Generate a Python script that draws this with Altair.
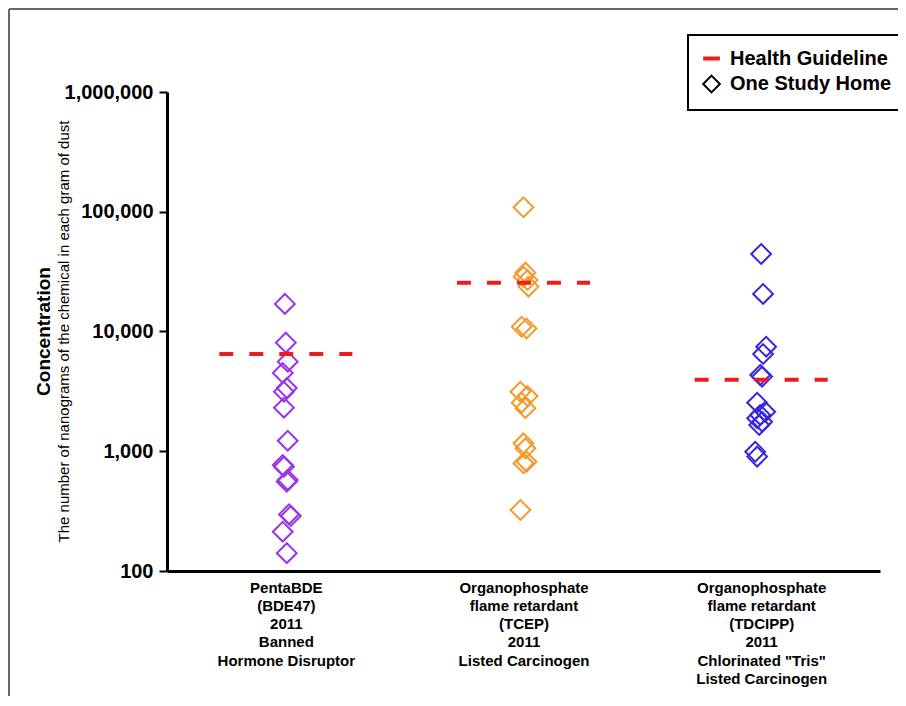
import altair as alt
import pandas as pd

# ---------------- data ----------------
categories = ["PentaBDE", "TCEP", "TDCIPP"]
category_labels = [
    ["PentaBDE", "(BDE47)", "2011", "Banned", "Hormone Disruptor"],
    ["Organophosphate", "flame retardant", "(TCEP)", "2011", "Listed Carcinogen"],
    ["Organophosphate", "flame retardant", "(TDCIPP)", "2011", 'Chlorinated "Tris"', "Listed Carcinogen"],
]
category_colors = ["#9933EE", "#F39A2B", "#3526E0"]
guidelines = [6500, 25500, 3950]

penta_values = [17000, 8070, 5600, 4500, 3370, 3140, 2310, 1225, 768, 743, 557, 575, 297, 288, 213, 141]
penta_jitter = [-0.004, 0, 0.008, -0.013, 0.004, -0.008, -0.008, 0.008, -0.013, -0.008, 0.004, 0.008, 0.013, 0.021, -0.013, 0.004]

tcep_values = [109000, 31000, 28700, 26900, 23700, 10970, 10600, 3140, 2890, 2545, 2290, 1165, 1057, 793, 818, 323]
tcep_jitter = [0, 0.008, 0, 0.017, 0.021, -0.008, 0.013, -0.013, 0.017, -0.008, 0.008, 0, 0.008, 0, 0.013, -0.013]

tdcipp_values = [44400, 20600, 7470, 6490, 4330, 4200, 2545, 2140, 2010, 1885, 1765, 1655, 991, 902]
tdcipp_jitter = [0, 0.008, 0.021, 0.008, -0.004, 0.004, -0.017, 0.017, -0.004, -0.017, 0.004, -0.008, -0.025, -0.017]

y_ticks = [100, 1000, 10000, 100000, 1000000]
legend_items = ["Health Guideline", "One Study Home"]
legend_colors = ["#EE1C1C", "black"]
legend_shapes = ["stroke", "diamond"]
legend_widths = [4, 2]

# ---------------- tables ----------------
rows = []
for i, (vals, jit) in enumerate([(penta_values, penta_jitter),
                                 (tcep_values, tcep_jitter),
                                 (tdcipp_values, tdcipp_jitter)]):
    for v, j in zip(vals, jit):
        rows.append({"category": categories[i], "value": v, "pos": i + 0.5 + j,
                     "kind": legend_items[1]})
points_df = pd.DataFrame(rows)

HALF = 0.28
guide_df = pd.DataFrame({
    "category": categories,
    "value": guidelines,
    "x": [i + 0.5 - HALF for i in range(len(categories))],
    "x2": [i + 0.5 + HALF for i in range(len(categories))],
    "kind": legend_items[0],
})

# multi-line x labels
def arr(lines):
    return "[" + ",".join("'" + l + "'" for l in lines) + "]"

label_expr = ("datum.value < 1 ? " + arr(category_labels[0]) +
              " : datum.value < 2 ? " + arr(category_labels[1]) +
              " : " + arr(category_labels[2]))

FONT = "Liberation Sans"
W, H = 713, 479
PAD = {"left": 159, "top": 84, "right": 18, "bottom": 125}

x_scale = alt.Scale(domain=[0, 3], nice=False, zero=False)
x_axis = alt.Axis(values=[0.5, 1.5, 2.5], labelExpr=label_expr, ticks=False, grid=False,
                  title=None, domainWidth=3, domainColor="black",
                  labelFont=FONT, labelFontSize=15, labelFontWeight="bold",
                  labelColor="black", labelLineHeight=18.3, labelPadding=9,
                  labelOverlap=False, labelBaseline="top")
y_scale = alt.Scale(type="log", domain=[100, 1000000], nice=False)
y_axis = alt.Axis(values=y_ticks, format=",", title=None, grid=False,
                  tickSize=8, tickWidth=2, tickColor="black",
                  domainWidth=3, domainColor="black",
                  labelFont=FONT, labelFontSize=20, labelFontWeight="bold",
                  labelColor="black", labelPadding=6)

legend = alt.Legend(
    title=None, orient="none", legendX=521, legendY=-57,
    symbolSize=280, symbolFillColor="transparent",
    labelFont=FONT, labelFontSize=20, labelFontWeight="bold", labelColor="black",
    labelLimit=400, padding=13, rowPadding=2, labelOffset=8, strokeColor="black",
)

kind_color = alt.Color("kind:N", scale=alt.Scale(domain=legend_items, range=legend_colors), legend=legend)
kind_width = alt.StrokeWidth("kind:N", scale=alt.Scale(domain=legend_items, range=legend_widths), legend=legend)
kind_shape = alt.Shape("kind:N", scale=alt.Scale(domain=legend_items, range=legend_shapes), legend=legend)

points = alt.Chart(points_df).mark_point(filled=False, size=390, opacity=1).encode(
    x=alt.X("pos:Q", scale=x_scale, axis=x_axis),
    y=alt.Y("value:Q", scale=y_scale, axis=y_axis),
    stroke=alt.Stroke("category:N", scale=alt.Scale(domain=categories, range=category_colors), legend=None),
    color=kind_color,
    strokeWidth=kind_width,
    shape=kind_shape,
)

rules = alt.Chart(guide_df).mark_rule(strokeDash=[14, 16]).encode(
    x=alt.X("x:Q", scale=x_scale),
    x2="x2:Q",
    y=alt.Y("value:Q", scale=y_scale),
    color=kind_color,
    strokeWidth=kind_width,
)

frame_data = alt.Data(values=[{}])
frame_top = alt.Chart(frame_data).mark_rule(color="#666666", strokeWidth=2).encode(
    x=alt.value(-158), x2=alt.value(W + PAD["right"]), y=alt.value(-83))
frame_left = alt.Chart(frame_data).mark_rule(color="#666666", strokeWidth=2).encode(
    x=alt.value(-158), y=alt.value(-83), y2=alt.value(H + PAD["bottom"]))

chart = alt.layer(frame_top, frame_left, points, rules).properties(
    width=W, height=H,
    autosize=alt.AutoSizeParams(type="none"),
    padding=PAD,
    background="white",
    title=alt.TitleParams(
        text="Concentration",
        subtitle="The number of nanograms of the chemical in each gram of dust",
        orient="left", anchor="middle", frame="group",
        font=FONT, fontSize=19, fontWeight="bold", color="black",
        subtitleFont=FONT, subtitleFontSize=15, subtitleFontWeight="normal",
        subtitleColor="black", subtitlePadding=3, offset=-64,
    ),
).configure_view(stroke=None).configure_legend(strokeWidth=2)

chart.save("out.html", embed_options={"renderer": "svg", "actions": False})
